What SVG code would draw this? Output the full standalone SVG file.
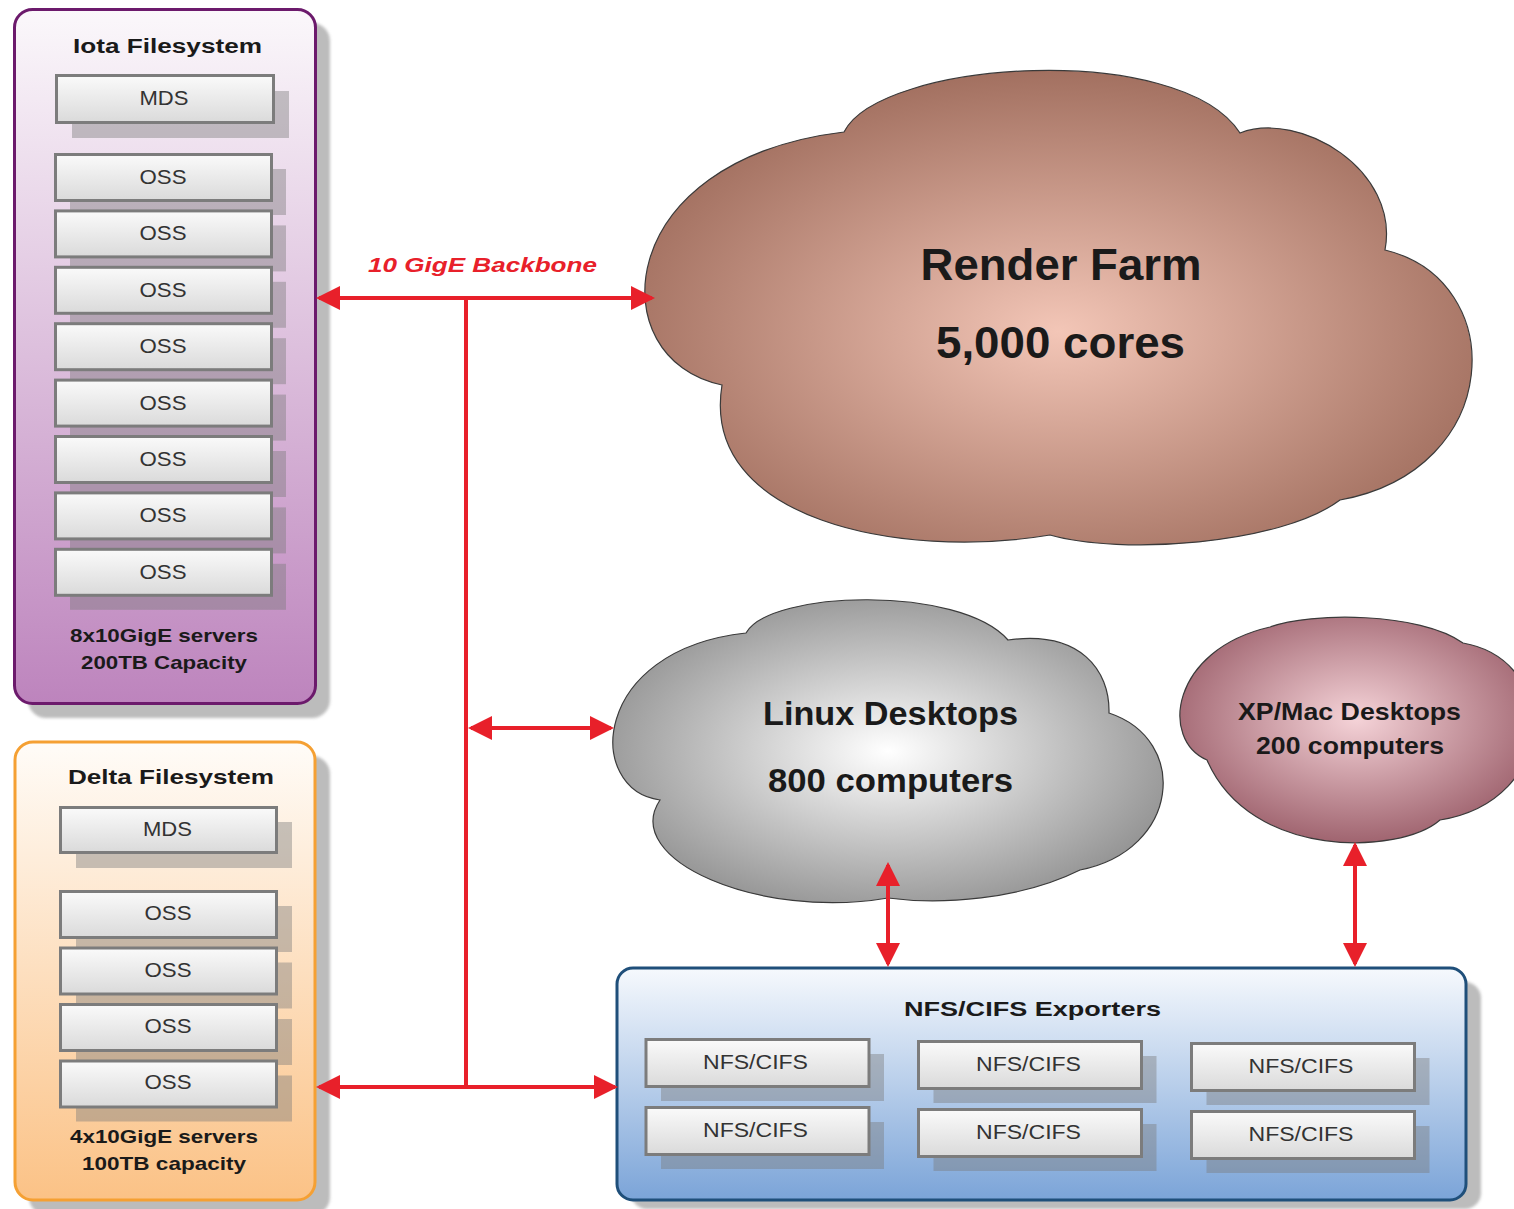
<svg xmlns="http://www.w3.org/2000/svg" width="1514" height="1209" viewBox="0 0 1514 1209">
<defs>
<linearGradient id="gIota" x1="0" y1="0" x2="0" y2="1"><stop offset="0" stop-color="#fbf8fb"/><stop offset="1" stop-color="#bd84bd"/></linearGradient>
<linearGradient id="gDelta" x1="0" y1="0" x2="0" y2="1"><stop offset="0" stop-color="#fffcf8"/><stop offset="1" stop-color="#fbc286"/></linearGradient>
<linearGradient id="gNfs" x1="0" y1="0" x2="0" y2="1"><stop offset="0" stop-color="#f6f9fd"/><stop offset="1" stop-color="#7ba4d8"/></linearGradient>
<linearGradient id="gSrv" x1="0" y1="0" x2="0" y2="1"><stop offset="0" stop-color="#fafafa"/><stop offset="1" stop-color="#dadada"/></linearGradient>
<radialGradient id="gRender" cx="0.5" cy="0.55" r="0.6"><stop offset="0" stop-color="#f3c6b7"/><stop offset="1" stop-color="#9b6858"/></radialGradient>
<radialGradient id="gLinux" cx="0.5" cy="0.5" r="0.6"><stop offset="0" stop-color="#ffffff"/><stop offset="1" stop-color="#8a8a8a"/></radialGradient>
<radialGradient id="gXp" cx="0.5" cy="0.45" r="0.6"><stop offset="0" stop-color="#f5d3d8"/><stop offset="1" stop-color="#985a66"/></radialGradient>
<filter id="blur" x="-5%" y="-5%" width="110%" height="110%"><feGaussianBlur stdDeviation="1.5"/></filter>
<marker id="ah" viewBox="0 0 24 24" refX="21" refY="12" markerWidth="24" markerHeight="24" markerUnits="userSpaceOnUse" orient="auto-start-reverse"><path d="M0,0 L24,12 L0,24 z" fill="#e8202a"/></marker>
<style>
.cshadow{fill:#a6a6a6;opacity:0.75}
.sshadow{fill:#7a7a7a;opacity:0.42}
.srv{fill:url(#gSrv);stroke:#7c7c7c;stroke-width:3}
.lbl{font-family:"Liberation Sans",Arial,sans-serif;font-size:20px;fill:#333;text-anchor:middle}
.ttl{font-family:"Liberation Sans",Arial,sans-serif;font-weight:bold;fill:#1a1a1a;text-anchor:middle}
.cloud{stroke:#3a3a3a;stroke-width:1.2}
.conn{stroke:#e8202a;stroke-width:4;fill:none}
</style>
</defs>
<rect width="1514" height="1209" fill="#ffffff"/>

<g id="iota">
<rect class="cshadow" x="28" y="23" width="302" height="695" rx="18" filter="url(#blur)"/>
<rect x="14.5" y="9.5" width="301" height="694" rx="18" fill="url(#gIota)" stroke="#6c1a6c" stroke-width="3"/>
<text class="ttl" x="167.5" y="53" font-size="20" textLength="189" lengthAdjust="spacingAndGlyphs">Iota Filesystem</text>
<rect class="sshadow" x="72" y="91" width="217" height="47"/>
<rect class="srv" x="56.5" y="75.5" width="217" height="47"/>
<text class="lbl" x="164" y="105" textLength="49" lengthAdjust="spacingAndGlyphs">MDS</text>
<rect class="sshadow" x="70" y="169" width="216" height="46"/>
<rect class="srv" x="55.5" y="154.5" width="216" height="46"/>
<text class="lbl" x="163" y="184" textLength="47" lengthAdjust="spacingAndGlyphs">OSS</text>
<rect class="sshadow" x="70" y="225.4" width="216" height="46"/>
<rect class="srv" x="55.5" y="210.9" width="216" height="46"/>
<text class="lbl" x="163" y="240.4" textLength="47" lengthAdjust="spacingAndGlyphs">OSS</text>
<rect class="sshadow" x="70" y="281.8" width="216" height="46"/>
<rect class="srv" x="55.5" y="267.3" width="216" height="46"/>
<text class="lbl" x="163" y="296.8" textLength="47" lengthAdjust="spacingAndGlyphs">OSS</text>
<rect class="sshadow" x="70" y="338.2" width="216" height="46"/>
<rect class="srv" x="55.5" y="323.7" width="216" height="46"/>
<text class="lbl" x="163" y="353.2" textLength="47" lengthAdjust="spacingAndGlyphs">OSS</text>
<rect class="sshadow" x="70" y="394.6" width="216" height="46"/>
<rect class="srv" x="55.5" y="380.1" width="216" height="46"/>
<text class="lbl" x="163" y="409.6" textLength="47" lengthAdjust="spacingAndGlyphs">OSS</text>
<rect class="sshadow" x="70" y="451" width="216" height="46"/>
<rect class="srv" x="55.5" y="436.5" width="216" height="46"/>
<text class="lbl" x="163" y="466" textLength="47" lengthAdjust="spacingAndGlyphs">OSS</text>
<rect class="sshadow" x="70" y="507.4" width="216" height="46"/>
<rect class="srv" x="55.5" y="492.9" width="216" height="46"/>
<text class="lbl" x="163" y="522.4" textLength="47" lengthAdjust="spacingAndGlyphs">OSS</text>
<rect class="sshadow" x="70" y="563.8" width="216" height="46"/>
<rect class="srv" x="55.5" y="549.3" width="216" height="46"/>
<text class="lbl" x="163" y="578.8" textLength="47" lengthAdjust="spacingAndGlyphs">OSS</text>
<text class="ttl" x="164" y="642" font-size="19" textLength="188" lengthAdjust="spacingAndGlyphs">8x10GigE servers</text>
<text class="ttl" x="164" y="669" font-size="19" textLength="166" lengthAdjust="spacingAndGlyphs">200TB Capacity</text>
</g>

<g id="delta">
<rect class="cshadow" x="29" y="756" width="301" height="459" rx="18" filter="url(#blur)"/>
<rect x="15" y="742" width="300" height="458" rx="18" fill="url(#gDelta)" stroke="#f5a033" stroke-width="3"/>
<text class="ttl" x="171" y="784" font-size="21" textLength="206" lengthAdjust="spacingAndGlyphs">Delta Filesystem</text>
<rect class="sshadow" x="76" y="822" width="216" height="46"/>
<rect class="srv" x="60.5" y="807.5" width="216" height="45"/>
<text class="lbl" x="167.5" y="836" textLength="49" lengthAdjust="spacingAndGlyphs">MDS</text>
<rect class="sshadow" x="76" y="906" width="216" height="46"/>
<rect class="srv" x="60.5" y="891.5" width="216" height="46"/>
<text class="lbl" x="168" y="920" textLength="47" lengthAdjust="spacingAndGlyphs">OSS</text>
<rect class="sshadow" x="76" y="962.5" width="216" height="46"/>
<rect class="srv" x="60.5" y="948" width="216" height="46"/>
<text class="lbl" x="168" y="976.5" textLength="47" lengthAdjust="spacingAndGlyphs">OSS</text>
<rect class="sshadow" x="76" y="1019" width="216" height="46"/>
<rect class="srv" x="60.5" y="1004.5" width="216" height="46"/>
<text class="lbl" x="168" y="1033" textLength="47" lengthAdjust="spacingAndGlyphs">OSS</text>
<rect class="sshadow" x="76" y="1075.5" width="216" height="46"/>
<rect class="srv" x="60.5" y="1061" width="216" height="46"/>
<text class="lbl" x="168" y="1089" textLength="47" lengthAdjust="spacingAndGlyphs">OSS</text>
<text class="ttl" x="164" y="1143" font-size="19" textLength="188" lengthAdjust="spacingAndGlyphs">4x10GigE servers</text>
<text class="ttl" x="164" y="1170" font-size="19" textLength="164" lengthAdjust="spacingAndGlyphs">100TB capacity</text>
</g>

<g id="render-farm">
<path class="cloud" fill="url(#gRender)" d="M722,385 C600,360 610,160 844,132 C880,60 1180,40 1240,133 C1300,110 1400,170 1385,250 C1510,280 1505,470 1340,500 C1280,545 1120,555 1050,535 C900,560 700,520 722,385 Z"/>
<text class="ttl" x="1061" y="280" font-size="44" textLength="281" lengthAdjust="spacingAndGlyphs">Render Farm</text>
<text class="ttl" x="1060.5" y="358" font-size="45" textLength="249" lengthAdjust="spacingAndGlyphs">5,000 cores</text>
</g>

<g id="linux-desktops">
<path class="cloud" fill="url(#gLinux)" d="M660,800 C585,790 590,650 746,633 C770,590 960,585 1008,640 C1080,630 1110,670 1109,713 C1190,740 1180,850 1080,870 C1020,900 940,905 888,898 C760,920 620,860 660,800 Z"/>
<text class="ttl" x="890.5" y="725" font-size="33" textLength="255" lengthAdjust="spacingAndGlyphs">Linux Desktops</text>
<text class="ttl" x="890.5" y="792" font-size="33" textLength="245" lengthAdjust="spacingAndGlyphs">800 computers</text>
</g>

<g id="xp-mac-desktops">
<path class="cloud" fill="url(#gXp)" d="M1207,760 C1160,740 1170,650 1270,627 C1310,612 1420,612 1463,643 C1560,660 1560,800 1440,820 C1400,855 1250,860 1207,760 Z"/>
<text class="ttl" x="1349.5" y="720" font-size="24" textLength="223" lengthAdjust="spacingAndGlyphs">XP/Mac Desktops</text>
<text class="ttl" x="1350" y="754" font-size="24" textLength="188" lengthAdjust="spacingAndGlyphs">200 computers</text>
</g>

<g id="nfs-exporters">
<rect class="cshadow" x="631" y="982" width="850" height="227" rx="16" filter="url(#blur)"/>
<rect x="617" y="968" width="849" height="232" rx="16" fill="url(#gNfs)" stroke="#1f4f7a" stroke-width="3"/>
<text class="ttl" x="1032.5" y="1016" font-size="20" textLength="257" lengthAdjust="spacingAndGlyphs">NFS/CIFS Exporters</text>
<rect class="sshadow" x="661" y="1054" width="223" height="47"/>
<rect class="srv" x="646" y="1039.5" width="223" height="47"/>
<text class="lbl" x="755.5" y="1069" font-size="19" textLength="105" lengthAdjust="spacingAndGlyphs">NFS/CIFS</text>
<rect class="sshadow" x="661" y="1122" width="223" height="47"/>
<rect class="srv" x="646" y="1107.5" width="223" height="47"/>
<text class="lbl" x="755.5" y="1137" font-size="19" textLength="105" lengthAdjust="spacingAndGlyphs">NFS/CIFS</text>
<rect class="sshadow" x="933.5" y="1056" width="223" height="47"/>
<rect class="srv" x="918.5" y="1041.5" width="223" height="47"/>
<text class="lbl" x="1028.5" y="1071" font-size="19" textLength="105" lengthAdjust="spacingAndGlyphs">NFS/CIFS</text>
<rect class="sshadow" x="933.5" y="1124" width="223" height="47"/>
<rect class="srv" x="918.5" y="1109.5" width="223" height="47"/>
<text class="lbl" x="1028.5" y="1139" font-size="19" textLength="105" lengthAdjust="spacingAndGlyphs">NFS/CIFS</text>
<rect class="sshadow" x="1206.5" y="1058" width="223" height="47"/>
<rect class="srv" x="1191.5" y="1043.5" width="223" height="47"/>
<text class="lbl" x="1301" y="1073" font-size="19" textLength="105" lengthAdjust="spacingAndGlyphs">NFS/CIFS</text>
<rect class="sshadow" x="1206.5" y="1126" width="223" height="47"/>
<rect class="srv" x="1191.5" y="1111.5" width="223" height="47"/>
<text class="lbl" x="1301" y="1141" font-size="19" textLength="105" lengthAdjust="spacingAndGlyphs">NFS/CIFS</text>
</g>

<g id="connectors">
<path class="conn" d="M466,298 V1087"/>
<path class="conn" d="M319,298 H652" marker-start="url(#ah)" marker-end="url(#ah)"/>
<path class="conn" d="M471,728 H611" marker-start="url(#ah)" marker-end="url(#ah)"/>
<path class="conn" d="M319,1087 H615" marker-start="url(#ah)" marker-end="url(#ah)"/>
<path class="conn" d="M888,865 V964" marker-start="url(#ah)" marker-end="url(#ah)"/>
<path class="conn" d="M1355,845 V964" marker-start="url(#ah)" marker-end="url(#ah)"/>
<text x="368" y="272" font-family="'Liberation Sans',Arial,sans-serif" font-size="21" font-weight="bold" font-style="italic" fill="#e8202a" textLength="229" lengthAdjust="spacingAndGlyphs">10 GigE Backbone</text>
</g>
</svg>
